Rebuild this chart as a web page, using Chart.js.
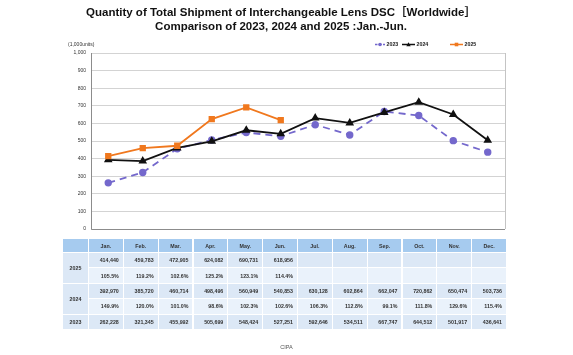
<!DOCTYPE html>
<html><head><meta charset="utf-8">
<script src="https://cdn.jsdelivr.net/npm/chart.js@4/dist/chart.umd.min.js"></script>
<style>
html,body{margin:0;padding:0;background:#fff;}
#wrap{position:relative;width:573px;height:355px;overflow:hidden;font-family:"Liberation Sans",Arial,sans-serif;}
#c{position:absolute;left:0;top:0;}
#title{position:absolute;left:0;width:562px;top:5px;text-align:center;font-weight:bold;font-size:11.5px;line-height:14px;color:#111;font-family:"Liberation Sans","Noto Sans CJK JP",sans-serif;}
.cell{position:absolute;box-sizing:border-box;font-size:5.3px;font-weight:bold;color:#333;display:flex;align-items:center;}
#src{position:absolute;left:0;width:573px;top:344px;text-align:center;font-size:5.5px;color:#555;}
</style></head>
<body><div id="wrap">
<canvas id="c" width="573" height="355"></canvas>
<div id="title">Quantity of Total Shipment of Interchangeable Lens DSC［Worldwide］<br>Comparison of 2023, 2024 and 2025 :Jan.-Jun.</div>
<div id="src">CIPA</div>
</div>
<script>
const months = ["Jan.","Feb.","Mar.","Apr.","May.","Jun.","Jul.","Aug.","Sep.","Oct.","Nov.","Dec."];
const yTicks = [0,100,200,300,400,500,600,700,800,900,1000];
const units2023 = [262228,321345,455992,505699,548424,527251,592646,534511,667747,644512,501917,436641];
const units2024 = [392970,385720,460714,498496,560949,540853,630128,602864,662047,720862,650474,503736];
const units2025 = [414440,459783,472905,624082,690731,618956];
const yoy2024 = ["149.9%","120.0%","101.0%","98.6%","102.3%","102.6%","106.3%","112.8%","99.1%","111.8%","129.6%","115.4%"];
const yoy2025 = ["105.5%","119.2%","102.6%","125.2%","123.1%","114.4%"];

const fmt = v => v.toLocaleString('en-US');
const k = a => a.map(v => v/1000);

const legendPlugin = {
  id:'customLegend',
  afterDraw(chart){
    const ctx = chart.ctx, ca = chart.chartArea;
    ctx.save();
    ctx.strokeStyle='#c4c4c4'; ctx.lineWidth=1;
    ctx.beginPath(); ctx.moveTo(ca.right+0.5, ca.top); ctx.lineTo(ca.right+0.5, ca.bottom); ctx.stroke();
    ctx.strokeStyle='#8c8c8c';
    ctx.beginPath(); ctx.moveTo(ca.left+0.5, ca.top); ctx.lineTo(ca.left+0.5, ca.bottom+0.5); ctx.lineTo(ca.right, ca.bottom+0.5); ctx.stroke();
    ctx.fillStyle='#333'; ctx.font='5px "Liberation Sans", Arial'; ctx.textBaseline='middle';
    ctx.fillText('(1,000units)', 68, 44.5);
    const items = [{x:375,w:10,ds:0},{x:402,w:13,ds:1},{x:450,w:13,ds:2}];
    items.forEach(it=>{
      const ds = chart.data.datasets[it.ds];
      const y = 44.5;
      ctx.strokeStyle = ds.borderColor; ctx.lineWidth = 1.5;
      ctx.setLineDash(ds.borderDash && ds.borderDash.length ? [2.5,1.5] : []);
      ctx.beginPath(); ctx.moveTo(it.x, y); ctx.lineTo(it.x+it.w, y); ctx.stroke();
      ctx.setLineDash([]);
      ctx.fillStyle = ds.pointBackgroundColor;
      const cx = it.x+it.w/2;
      ctx.beginPath();
      if (ds.pointStyle==='circle') ctx.arc(cx,y,1.8,0,Math.PI*2);
      else if (ds.pointStyle==='rect') ctx.rect(cx-1.8,y-1.8,3.6,3.6);
      else { ctx.moveTo(cx,y-2.2); ctx.lineTo(cx+2.2,y+1.8); ctx.lineTo(cx-2.2,y+1.8); ctx.closePath(); }
      ctx.fill();
      ctx.fillStyle='#222'; ctx.font='bold 5.3px "Liberation Sans", Arial'; ctx.textBaseline='middle';
      ctx.fillText(ds.label, it.x+it.w+1.5, y+0.3);
    });
    ctx.restore();
  }
};

new Chart(document.getElementById('c'), {
  type:'line',
  data:{
    labels: months,
    datasets:[
      {label:'2023', data:k(units2023), borderColor:'#7468cc', backgroundColor:'#7468cc', pointBackgroundColor:'#7468cc', pointBorderColor:'#7468cc', borderWidth:1.8, borderDash:[7,5], pointStyle:'circle', pointRadius:2.8, tension:0, order:3},
      {label:'2024', data:k(units2024), borderColor:'#111111', backgroundColor:'#111111', pointBackgroundColor:'#111111', pointBorderColor:'#111111', borderWidth:1.8, pointStyle:'triangle', pointRadius:3.2, tension:0, order:2},
      {label:'2025', data:k(units2025), borderColor:'#f0781e', backgroundColor:'#f0781e', pointBackgroundColor:'#f0781e', pointBorderColor:'#f0781e', borderWidth:1.8, pointStyle:'rect', pointRadius:3.2, tension:0, order:1}
    ]
  },
  options:{
    responsive:false, animation:false, devicePixelRatio:1,
    layout:{padding:{top:53,right:68,bottom:126,left:0}},
    plugins:{legend:{display:false}, title:{display:false}, tooltip:{enabled:false}},
    scales:{
      x:{display:false, offset:true},
      y:{min:0,max:1000,
         afterBuildTicks(s){ s.ticks = yTicks.map(v=>({value:v})); },
         afterFit(s){ s.width = 91; },
         ticks:{font:{size:5, family:'"Liberation Sans", Arial'}, color:'#333', padding:5, callback:v=>fmt(v)},
         grid:{color:'#d3d3d3', lineWidth:1, drawTicks:false},
         border:{display:false}}
    }
  },
  plugins:[legendPlugin]
});

const wrap = document.getElementById('wrap');
const L0 = 63, L1 = 89, R = 507, colW = (R-L1)/12;
const hdrTop = 239, hdrH = 14, rowH = 15.4;
const cHdr='#a6cbef', cDark='#dce8f6', cLight='#eaf2fb';
function cell(x,y,w,h,bg,text,align){
  const d=document.createElement('div'); d.className='cell';
  d.style.left=x+'px'; d.style.top=y+'px'; d.style.width=w+'px'; d.style.height=h+'px';
  d.style.background=bg; d.style.borderRight='1px solid #fff'; d.style.borderBottom='1px solid #fff';
  d.style.justifyContent = align==='c'?'center':'flex-end';
  if(align!=='c') d.style.paddingRight='4px';
  d.textContent=text; wrap.appendChild(d);
}
cell(L0,hdrTop,L1-L0,hdrH,cHdr,'', 'c');
months.forEach((m,i)=>cell(L1+i*colW,hdrTop,colW,hdrH,cHdr,m,'c'));
const rows = [
  {vals:units2025.map(fmt), bg:cDark},
  {vals:yoy2025, bg:cLight},
  {vals:units2024.map(fmt), bg:cDark},
  {vals:yoy2024, bg:cLight},
  {vals:units2023.map(fmt), bg:cDark}
];
rows.forEach((r,ri)=>{
  const y = hdrTop+hdrH+ri*rowH;
  for(let i=0;i<12;i++) cell(L1+i*colW,y,colW,rowH,r.bg,r.vals[i]||'','r');
});
cell(L0,hdrTop+hdrH,L1-L0,rowH*2,cDark,'2025','c');
cell(L0,hdrTop+hdrH+rowH*2,L1-L0,rowH*2,cDark,'2024','c');
cell(L0,hdrTop+hdrH+rowH*4,L1-L0,rowH,cDark,'2023','c');
</script>
</body></html>
